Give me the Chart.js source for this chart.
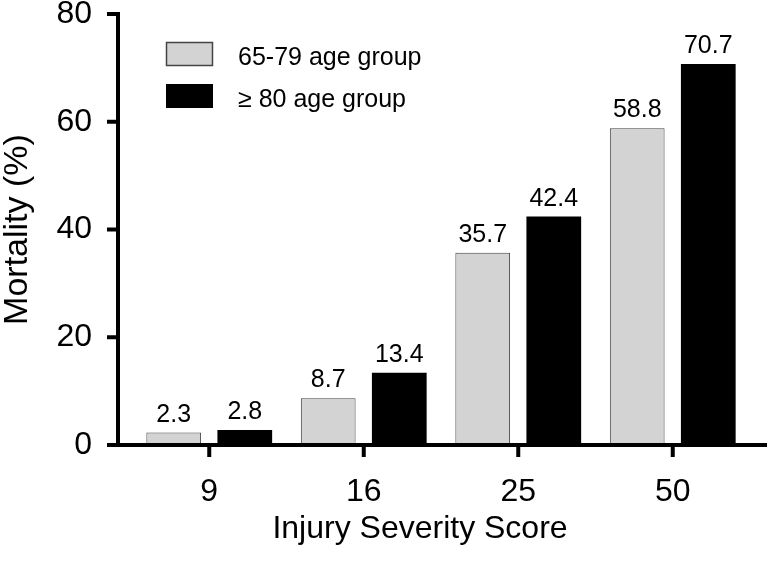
<!DOCTYPE html>
<html>
<head>
<meta charset="utf-8">
<script src="https://cdn.jsdelivr.net/npm/chart.js@4"></script>
<style>
  html, body { margin: 0; padding: 0; background: #fff; }
  #wrap { width: 769px; height: 562px; }
</style>
</head>
<body>
<div id="wrap"><canvas id="myChart" width="769" height="562"></canvas></div>
<script>
var scores = ['9', '16', '25', '50'];
var group1 = [2.3, 8.7, 35.7, 58.8];   // 65-79
var group2 = [2.8, 13.4, 42.4, 70.7];  // >= 80
var seriesNames = ['65-79 age group', '\u2265 80 age group'];
var yTicks = [0, 20, 40, 60, 80];
var xTitle = 'Injury Severity Score';
var yTitle = 'Mortality (%)';

var FONT = '"Liberation Sans", Arial, sans-serif';
Chart.defaults.font.family = FONT;
Chart.defaults.color = '#000';

// axes drawn GraphPad style: y line set off left of the bars, x line running wide
var axesPlugin = {
  id: 'axesLines',
  afterDraw: function(chart) {
    var c = chart.ctx, a = chart.chartArea;
    var ys = chart.scales.y, xs = chart.scales.x;
    var ax = a.left - 14;
    c.save();
    c.strokeStyle = '#000';
    c.lineWidth = 4;
    c.beginPath();
    c.moveTo(ax, a.top - 2);
    c.lineTo(ax, a.bottom + 2);
    c.stroke();
    yTicks.forEach(function(v) {
      var py = ys.getPixelForValue(v);
      c.beginPath();
      c.moveTo(ax - 11, py);
      c.lineTo(ax, py);
      c.stroke();
    });
    c.beginPath();
    c.moveTo(ax - 11, a.bottom);
    c.lineTo(chart.width - 2, a.bottom);
    c.stroke();
    scores.forEach(function(s, i) {
      var px = xs.getPixelForValue(i);
      c.beginPath();
      c.moveTo(px, a.bottom);
      c.lineTo(px, a.bottom + 12);
      c.stroke();
    });
    // x title sits a little left of the plot centre in the original
    c.font = '32px ' + FONT;
    c.fillStyle = '#000';
    c.textAlign = 'center';
    c.textBaseline = 'middle';
    c.fillText(xTitle, 420, 529);
    c.restore();
  }
};

var valueLabels = {
  id: 'valueLabels',
  afterDatasetsDraw: function(chart) {
    var c = chart.ctx;
    c.save();
    c.font = '25px ' + FONT;
    c.fillStyle = '#000';
    c.textAlign = 'center';
    c.textBaseline = 'alphabetic';
    chart.data.datasets.forEach(function(ds, di) {
      chart.getDatasetMeta(di).data.forEach(function(bar, i) {
        c.fillText(ds.data[i].toFixed(1), bar.x, bar.y - 11);
      });
    });
    c.restore();
  }
};

var boxLegend = {
  id: 'boxLegend',
  afterDraw: function(chart) {
    var c = chart.ctx;
    var rows = [54, 96];
    c.save();
    c.font = '25px ' + FONT;
    c.textBaseline = 'middle';
    c.textAlign = 'left';
    chart.data.datasets.forEach(function(ds, i) {
      var cy = rows[i];
      c.fillStyle = ds.backgroundColor;
      c.fillRect(166, cy - 12, 47, 24);
      if (i === 0) {
        c.strokeStyle = '#444';
        c.lineWidth = 1.5;
        c.strokeRect(166.5, cy - 11.5, 46, 23);
      }
      c.fillStyle = '#000';
      c.fillText(ds.label, 238, cy + 4);
    });
    c.restore();
  }
};

var ctx = document.getElementById('myChart').getContext('2d');
var myChart = new Chart(ctx, {
  type: 'bar',
  data: {
    labels: scores,
    datasets: [{
      label: seriesNames[0],
      data: group1,
      backgroundColor: '#d3d3d3',
      borderColor: '#444',
      borderWidth: 1
    }, {
      label: seriesNames[1],
      data: group2,
      backgroundColor: '#000',
      borderColor: '#000',
      borderWidth: 0
    }]
  },
  options: {
    responsive: false,
    animation: false,
    events: [],
    categoryPercentage: 0.92,
    barPercentage: 0.77,
    layout: { padding: { top: 14, right: 19, left: 0, bottom: 0 } },
    plugins: {
      legend: { display: false },
      tooltip: { enabled: false }
    },
    scales: {
      x: {
        grid: { display: false, drawTicks: false },
        border: { display: false },
        ticks: { font: { size: 32 }, padding: 28, color: '#000' },
        afterFit: function(scale) { scale.height = 117; }
      },
      y: {
        min: 0,
        max: 80,
        grid: { display: false, drawTicks: false },
        border: { display: false },
        ticks: { stepSize: 20, font: { size: 32 }, padding: 40, color: '#000' },
        title: {
          display: true,
          text: yTitle,
          font: { size: 34, lineHeight: 1.05 },
          padding: { top: 0, bottom: 0 },
          color: '#000'
        },
        afterFit: function(scale) {
          scale.width = 132;
          scale.paddingTop = 0;
          scale.paddingBottom = 0;
        }
      }
    }
  },
  plugins: [axesPlugin, valueLabels, boxLegend]
});
</script>
</body>
</html>
